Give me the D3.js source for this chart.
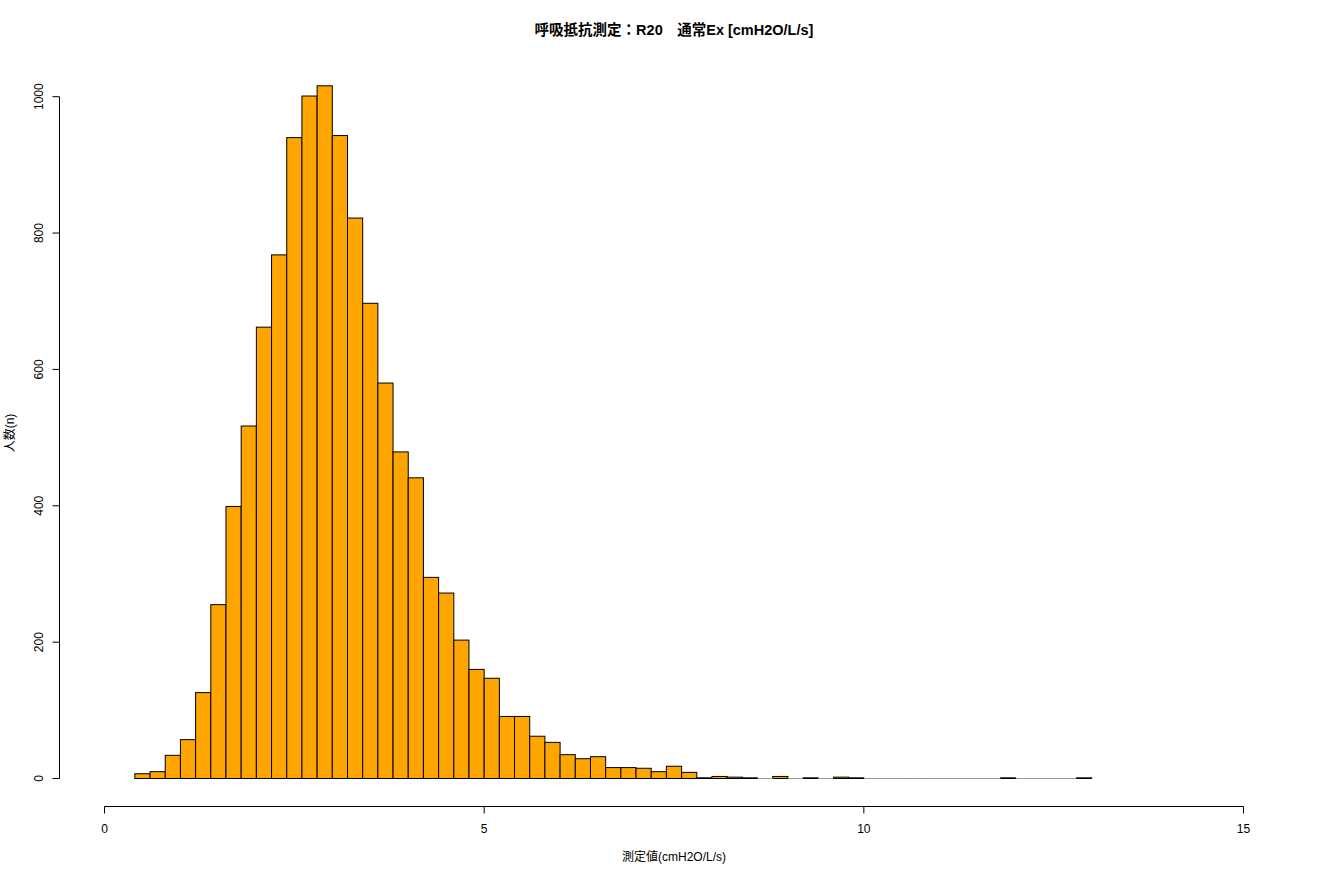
<!DOCTYPE html>
<html><head><meta charset="utf-8">
<script src="https://cdn.jsdelivr.net/npm/d3@7"></script>
<style>body{margin:0;background:#fff}svg{display:block}text{font-family:"Liberation Sans","Noto Sans CJK JP",sans-serif}</style>
</head><body><svg id="c" width="1320" height="880"></svg>
<script>
const binStarts = [0.4,0.6,0.8,1.0,1.2,1.4,1.6,1.8,2.0,2.2,2.4,2.6,2.8,3.0,3.2,3.4,3.6,3.8,4.0,4.2,4.4,4.6,4.8,5.0,5.2,5.4,5.6,5.8,6.0,6.2,6.4,6.6,6.8,7.0,7.2,7.4,7.6,7.8,8.0,8.2,8.4,8.6,8.8,9.0,9.2,9.4,9.6,9.8,10.0,10.2,10.4,10.6,10.8,11.0,11.2,11.4,11.6,11.8,12.0,12.2,12.4,12.6,12.8];
const counts = [7,10,34,57,126,255,399,517,662,768,940,1001,1016,943,822,697,580,479,441,295,272,203,160,147,91,91,62,53,35,29,32,16,16,15,10,18,9,1,3,2,1,0,3,0,1,0,2,1,0,0,0,0,0,0,0,0,0,1,0,0,0,0,1];
const binWidth = 0.2;
const xTicks = [0,5,10,15];
const yTicks = [0,200,400,600,800,1000];
const title = "呼吸抵抗測定：R20　通常Ex [cmH2O/L/s]";
const xTitle = "測定値(cmH2O/L/s)";
const yTitle = "人数(n)";

const svg = d3.select("#c");
const x = d3.scaleLinear().domain([0,15]).range([104.5,1243.5]);
const y = d3.scaleLinear().domain([0,1000]).range([778.5,96.7]);

const bars = svg.append("g");
bars.selectAll("rect").data(binStarts).join("rect")
  .attr("x", d=>x(d)).attr("width", d=>x(d+binWidth)-x(d))
  .attr("y", (d,i)=>y(counts[i])).attr("height",(d,i)=>y(0)-y(counts[i]))
  .attr("fill","#FFA500").attr("stroke","#000").attr("stroke-width",1);
// zero-height bins still show their border as a baseline segment
bars.selectAll("line").data(binStarts.filter((d,i)=>counts[i]===0)).join("line")
  .attr("x1", d=>x(d)).attr("x2", d=>x(d+binWidth))
  .attr("y1", y(0)).attr("y2", y(0))
  .attr("stroke","#999").attr("stroke-width",1);

// x axis
const xa = svg.append("g").attr("transform","translate(0,806.5)");
xa.append("line").attr("x1",x(0)).attr("x2",x(15)).attr("stroke","#000");
xa.selectAll("line.t").data(xTicks).join("line").attr("class","t")
  .attr("x1",d=>x(d)).attr("x2",d=>x(d)).attr("y1",0).attr("y2",7).attr("stroke","#000");
xa.selectAll("text").data(xTicks).join("text")
  .attr("x",d=>x(d)).attr("y",26).attr("text-anchor","middle").attr("font-size",12).text(d=>d);

// y axis
const ya = svg.append("g").attr("transform","translate(59.5,0)");
ya.append("line").attr("y1",y(0)).attr("y2",y(1000)).attr("stroke","#000");
ya.selectAll("line.t").data(yTicks).join("line").attr("class","t")
  .attr("y1",d=>y(d)).attr("y2",d=>y(d)).attr("x1",0).attr("x2",-7).attr("stroke","#000");
ya.selectAll("text").data(yTicks).join("text")
  .attr("transform",d=>`translate(-17,${y(d)}) rotate(-90)`)
  .attr("text-anchor","middle").attr("font-size",12).text(d=>d);

svg.append("text").attr("x",674).attr("y",35).attr("text-anchor","middle")
  .attr("font-size",14.5).attr("font-weight","bold").text(title);
svg.append("text").attr("x",674).attr("y",861).attr("text-anchor","middle")
  .attr("font-size",12).text(xTitle);
svg.append("text").attr("transform","translate(14,433) rotate(-90)").attr("text-anchor","middle")
  .attr("font-size",12).text(yTitle);
</script></body></html>
